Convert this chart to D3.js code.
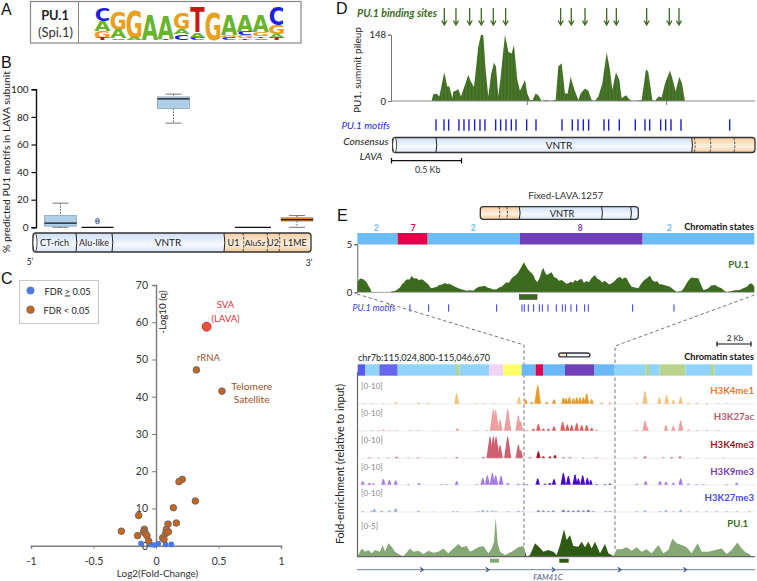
<!DOCTYPE html>
<html>
<head>
<meta charset="utf-8">
<style>
  html, body { margin: 0; padding: 0; background: #fff; }
  text { font-family: Lato, "Noto Sans", sans-serif; }
  .panel { font-family: "Liberation Sans", sans-serif; font-size: 16px; fill: #111; }
</style>
<script src="https://d3js.org/d3.v7.min.js"></script>
</head>
<body>
<script>
// ---- panel A: sequence logo (letters top to bottom, heights in bits)
var logoLetters = ["CAGT", "GAC", "GA", "A", "AT", "GAC", "TAC", "G", "AGC", "ACGT", "AGTC", "CGAT"];
var logoBits = [[.8, .63, .42, .12], [1.15, .52, .1], [1.7, .12], [1.52], [1.46, .06], [1, .35, .33],
  [1.52, .35, .12], [1.73], [1.25, .15, .12], [1.04, .21, .17, .1], [1.04, .27, .1, .1], [1.1, .56, .21, .12]];

// ---- panel B: boxplots
var subunitNames = ["CT-rich", "Alu-like", "VNTR", "U1", "AluSz", "U2", "L1ME"];
var subunitLength = [43, 36, 112, 19, 24, 12, 32];
var boxNames = ["CT-rich", "Alu-like", "VNTR", "AluSz", "L1ME"];
var boxPos = [27.5, 64.5, 140.5, 220, 264];
var boxLow = [0, 0, 75.5, 0, 0];
var boxQ1 = [.8, 0, 86, 0, 4.5];
var boxMedian = [3, 0, 93, 0, 5.5];
var boxQ3 = [8.5, 0, 94.5, 0, 7];
var boxHigh = [17.5, 0, 96.5, 0, 8.5];
var boxOutliers = [3.8, 5.2];
var boxTicks = [0, 20, 40, 60, 80, 100];

// ---- panel C: volcano plot
var sigFold = [.323, .528, .21, .184, .315, .139, -.139, .163, .096, -.277, -.093, -.099, -.085, -.147, -.072, -.059, .083, .077, .099, .053, .064];
var sigLogQ = [47.2, 41.5, 17.8, 17.2, 12, 10.2, 8.1, 6.1, 5.8, 3.9, 4.4, 3.8, 3.3, 2.7, 2.7, 1.25, 4.4, 3.3, 3.7, 2.1, 1.7];
var nsFold = [-.12, -.043, -.013, .019, .077, .123];
var nsLogQ = [.6, .35, .2, .6, .35, .35];
var lavaFold = .405, lavaLogQ = 58.8;
var foldTicks = [-1, -.5, 0, .5, 1];
var logQTicks = [0, 10, 20, 30, 40, 50, 60, 70];

// ---- panel D: consensus LAVA pileup (bins are ~2.4 bp)
var pileupBin = [115, 120, 130, 138, 153, 162, 168, 177, 180, 188, 195, 203, 225, 233, 242, 255, 263, 270, 277, 285, 293, 302, 308, 315, 322, 335, 345, 355, 362, 372, 380, 395, 402, 410, 418, 427, 435, 445, 460, 470, 487, 495, 505, 515, 523, 532, 542, 555, 562, 575, 585, 595, 605, 615, 627, 640, 650, 657, 668, 678, 685, 698, 710, 720, 745, 758, 765, 777, 785, 795, 805, 815, 830, 840, 847, 858, 866, 875];
var pileupVal = [0, 15, 16, 10, 64, 32, 33, 6, 21, 23, 27, 10, 58, 43, 31, 121, 148, 147, 69, 10, 58, 86, 77, 10, 54, 148, 110, 106, 125, 47, 23, 47, 17, 2, 2, 17, 13, 0, 2, 0, 2, 77, 84, 17, 17, 54, 28, 2, 17, 28, 23, 2, 0, 10, 39, 109, 69, 25, 64, 47, 6, 13, 2, 0, 2, 71, 65, 2, 0, 10, 8, 39, 68, 43, 21, 54, 39, 0];
var pileupTicks = [0, 148];
var bindingSites = [153, 188, 229, 264, 300, 337, 502, 534, 575, 640, 669, 760, 828, 857];
var consensusMotifs = [128, 152, 166, 197, 212, 227, 244, 260, 275, 307, 322, 338, 354, 368, 400, 428, 506, 537, 554, 570, 586, 632, 646, 678, 726, 755, 769, 802, 817, 833, 863, 1009];
var consensusDividers = [128, 895, 903, 950, 1022];

// ---- panel E: Fixed-LAVA.1257 locus
var stateStart = [0, 121, 211, 488, 856];
var stateEnd = [121, 211, 488, 856, 1191];
var stateName = ["2", "7", "2", "8", "2"];
var stateLabelBin = [57, 168, 348, 669, 936];
var stateColor = ["#6cbcf8", "#e0034b", "#6cbcf8", "#7040b8", "#6cbcf8"];
var locusBin = [0, 5, 10, 14, 18, 23, 28, 33, 38, 43, 98, 105, 113, 120, 128, 135, 140, 143, 150, 156, 163, 170, 178, 185, 191, 198, 205, 213, 218, 223, 230, 238, 246, 255, 263, 270, 276, 283, 292, 303, 315, 328, 338, 348, 356, 363, 372, 383, 390, 398, 408, 418, 425, 433, 440, 448, 455, 461, 468, 476, 483, 490, 496, 500, 505, 513, 520, 528, 534, 540, 547, 553, 558, 563, 568, 574, 583, 590, 598, 605, 613, 620, 627, 633, 640, 647, 653, 660, 668, 673, 680, 688, 695, 703, 713, 720, 728, 735, 741, 748, 755, 763, 770, 778, 788, 795, 802, 808, 815, 823, 833, 843, 850, 858, 864, 870, 878, 885, 893, 900, 907, 913, 925, 938, 948, 958, 973, 981, 988, 995, 1003, 1012, 1023, 1030, 1038, 1045, 1053, 1062, 1073, 1083, 1093, 1100, 1108, 1133, 1148, 1158, 1170, 1176, 1180, 1186, 1191];
var locusVal = [1.04, 1.3, 1.46, 1.36, 1.39, 1.2, 1.04, .7, .42, .03, .03, .1, .14, .3, .49, .9, 1, 1.18, 1.35, 1.3, 1.7, 1.45, 1.46, 1.25, 1.35, 1.28, 1.05, .83, .55, .42, .5, .56, .75, .8, .97, .85, .9, .76, .6, .42, .3, .17, .22, .17, .4, .56, .6, .69, .5, .42, .3, .31, .5, .59, .8, 1.04, 1, 1.35, 1.63, 1.8, 2.08, 2.5, 2.9, 3.13, 2.8, 2.33, 2.1, 1.81, 1.3, 1.04, 1.5, 2.2, 2.57, 2.1, 1.81, 1.9, 2.08, 1.6, 1.46, 1.2, 1.28, 1.1, .9, .94, 1.1, 1, 1.28, 1.15, 1.35, 1.39, 1, 1.18, 1.05, 1.5, 1.81, 1.4, 1.28, 1, 1.2, 1.04, .8, .94, 1.1, 1.4, 1.63, 1.35, 1.55, 1.46, 1, .59, .5, .42, .8, 1.18, 1.35, 1.5, 1.74, 1.25, 1.11, 1.15, .8, .83, .7, .59, .3, .07, .14, .5, .94, 1.3, 1.53, 1.5, 1.46, .9, .24, .3, .42, .7, .76, .55, .42, .2, .03, .21, .25, .42, .6, .85, .94, .85, .59];
var locusMotifs = [158, 214, 274, 418, 494, 501, 513, 529, 546, 555, 572, 597, 615, 624, 641, 658, 682, 693, 826, 950];

// ---- panel E lower: browser view
var wideStart = [0, 22, 65, 120, 295, 305, 394, 437, 492, 534, 556, 622, 709, 770, 863, 874, 906, 983, 1060, 1071];
var wideEnd = [22, 65, 120, 295, 305, 394, 437, 492, 534, 556, 622, 709, 770, 863, 874, 906, 983, 1060, 1071, 1184];
var wideColor = ["#5a5af0", "#90d4fa", "#6666ee", "#90d4fa", "#b8d48c", "#90d4fa", "#f0d4f8", "#ffff66", "#6ab8f7", "#e0034b", "#6ab8f7", "#7040b8", "#6ab8f7", "#90d4fa", "#b8d48c", "#90d4fa", "#b8d48c", "#90d4fa", "#b8d48c", "#90d4fa"];

var trackNames = ["H3K4me1", "H3K27ac", "H3K4me3", "H3K9me3", "H3K27me3"];
var k4me1Pos = [17, 42, 77, 114, 182, 212, 297, 357, 377, 407, 484, 504, 522, 540, 567, 589, 617, 625, 635, 647, 657, 667, 677, 687, 702, 732, 757, 837, 862, 905, 927, 947, 969, 992, 1017, 1047, 1082, 1107];
var k4me1Val = [.3, .3, .4, .9, .7, .6, 4.7, .4, .4, .3, 3.1, 2, .9, 8.3, .9, 2, 2.9, 2.6, 3.1, 2.6, 2.9, 2.9, 3, 4.6, 2.1, .6, .6, .6, 5.7, 2.9, 4, 1.7, 3.1, .7, .6, .4, .4, .3];
var k27acPos = [17, 42, 62, 77, 95, 117, 157, 182, 227, 299, 357, 387, 407, 414, 427, 450, 482, 489, 507, 527, 542, 557, 572, 589, 615, 629, 642, 657, 672, 687, 702, 717, 837, 862, 867, 925, 947, 969, 992, 1017, 1047, 1082];
var k27acVal = [.1, .4, .4, .6, .4, .3, .3, .4, .1, 1.3, .3, .4, 9.7, 9.3, 5, 9.7, 6.9, 4.3, .4, 1.1, 3.1, 1.1, 1.1, 2, 4, 2.9, 2.6, 3.4, 2.6, 2.6, 1.4, .4, .6, 4.6, 2.1, 2.6, 2.3, 4.6, .6, .4, .3, .4];
var k4me3Pos = [35, 62, 92, 117, 152, 182, 217, 262, 297, 377, 397, 407, 415, 427, 450, 482, 489, 517, 542, 557, 577, 592, 617, 637, 677, 717, 832, 862, 917, 942, 967, 1017, 1097];
var k4me3Val = [.4, .3, .3, .7, .3, .4, .1, .3, .6, .6, 9.7, 9.7, 9.7, 5.7, 9.7, 6, 3.6, .4, 3.1, .9, .9, 1.4, .4, .4, .3, .3, .4, .9, .4, .6, .9, .3, .3];
var k9me3Pos = [15, 35, 47, 77, 95, 114, 152, 184, 252, 267, 297, 357, 375, 389, 404, 414, 430, 450, 482, 495, 507, 540, 562, 577, 589, 617, 632, 652, 662, 675, 689, 699, 717, 742, 757, 837, 864, 907, 925, 947, 969, 992, 1017, 1037, 1107, 1137];
var k9me3Val = [1.7, .9, .7, 2.6, 2.1, 2, .4, .9, .3, .3, 1.7, .4, 3.1, 4.3, 5.4, 4.3, 4, .9, .6, .4, .3, 2.9, .6, .9, 2.6, 5.4, 4, 4.6, 2.9, 4.3, 3.1, 2.1, .4, .4, .6, .6, 1.7, 1.7, 1.4, 1.1, 2.9, .6, .4, .3, .4, 1.1];
var k27me3Pos = [15, 42, 50, 72, 95, 114, 182, 227, 287, 299, 362, 375, 389, 404, 415, 452, 482, 495, 542, 557, 572, 587, 617, 632, 647, 662, 677, 692, 707, 744, 757, 837, 862, 907, 925, 947, 969, 992, 1017, 1047, 1077, 1107, 1137, 1175];
var k27me3Val = [.4, .6, 1.3, .6, .7, 1.6, .6, .1, .4, .4, .3, .9, .6, .6, .4, .3, .6, .3, .7, .6, .4, .6, .9, .6, .6, .7, .6, .9, .3, .3, .4, .3, .7, .4, 1, .3, 1, .3, .3, .3, .3, .3, .4, .3];
var pu1Bin = [0, 12, 22, 32, 42, 52, 67, 75, 82, 92, 102, 112, 127, 137, 145, 157, 167, 182, 197, 212, 227, 242, 257, 272, 287, 302, 312, 327, 337, 347, 362, 377, 392, 402, 409, 414, 420, 427, 442, 462, 482, 497, 507, 517, 532, 545, 557, 572, 587, 597, 607, 619, 627, 637, 647, 662, 672, 682, 692, 702, 712, 727, 742, 752, 767, 777, 792, 807, 822, 837, 852, 867, 882, 902, 917, 932, 944, 957, 972, 987, 1002, 1020, 1032, 1052, 1072, 1092, 1107, 1122, 1139, 1149, 1162, 1179];
var pu1Val = [.08, 1.04, .63, .83, .42, .83, .63, 1.46, .63, 1.67, 1.25, .63, .21, .08, .42, 1.04, .63, .75, .33, .75, .5, .63, 1.04, .42, 1.04, 1.58, 1.17, 1.33, .63, .83, 1.17, 1.33, .42, 1.04, 1.88, 4.88, 1.67, .63, .21, .63, 1.17, 1.33, 0, .21, 1.67, 1.17, .63, .83, .63, .21, 1.46, 3.42, 2.08, 2.71, 1.33, 1.25, 1.88, 1.17, 1.88, 1.04, 1.88, .42, 1.58, .42, .08, .92, .92, 1.17, .75, 1.17, .63, .92, .42, 1.46, .42, .83, 2.29, 1.67, 1.46, 1.17, .42, 1.67, .63, .63, .83, 1.04, .33, .83, 1.79, 1.17, .63, .21];
var geneArrows = [192, 389, 587, 785, 982];

var svg = d3.select("body").append("svg")
  .attr("width", 757).attr("height", 581)
  .style("display", "block");
var defs = svg.append("defs");

function gradient(id, c0, c1, c2) {
  var g = defs.append("linearGradient").attr("id", id).attr("x1", 0).attr("x2", 0).attr("y1", 0).attr("y2", 1);
  g.append("stop").attr("offset", "0%").attr("stop-color", c0);
  g.append("stop").attr("offset", "60%").attr("stop-color", c1);
  g.append("stop").attr("offset", "100%").attr("stop-color", c2);
}
gradient("cylBlue", "#cddef5", "#f6f9fe", "#dbe6f7");
gradient("cylOrange", "#f5cda0", "#fdf1e2", "#f2c694");

// thin bars of the pileup show up as a faint stripe
var stripe = defs.append("pattern").attr("id", "pileStripe").attr("patternUnits", "userSpaceOnUse").attr("width", 1.4).attr("height", 4);
stripe.append("rect").attr("width", 1.4).attr("height", 4).attr("fill", "#3c6a1e");
stripe.append("rect").attr("width", .5).attr("height", 4).attr("fill", "#527f34");

function label(x, y, str, size, color, anchor, extra) {
  var t = svg.append("text").attr("x", x).attr("y", y).text(str)
    .style("font-size", size + "px").style("fill", color || "#222")
    .style("text-anchor", anchor || "start");
  if (extra && extra.bold) t.style("font-weight", "bold");
  if (extra && extra.italic) t.style("font-style", "italic");
  return t;
}
function rotLabel(x, y, str, size, color) {
  return svg.append("text").attr("transform", "translate(" + x + "," + y + ")rotate(-90)")
    .style("text-anchor", "middle").style("font-size", size + "px").style("fill", color || "#222").text(str);
}
function panelLetter(x, y, s) {
  svg.append("text").attr("class", "panel").attr("x", x).attr("y", y).text(s);
}

// cylinder schematic; parts are pixel spans, blue or orange, cap = draw left ellipse
function cylinder(x0, x1, y0, y1, parts, dividers, cap) {
  var g = svg.append("g");
  var clipId = "cyl" + Math.round(x0) + "_" + Math.round(y0);
  defs.append("clipPath").attr("id", clipId).append("rect")
    .attr("x", x0).attr("y", y0).attr("width", x1 - x0).attr("height", y1 - y0).attr("rx", 3);
  var inner = g.append("g").attr("clip-path", "url(#" + clipId + ")");
  parts.forEach(function(p) {
    inner.append("rect").attr("x", p.from).attr("y", y0).attr("width", p.to - p.from).attr("height", y1 - y0)
      .attr("fill", p.kind == "orange" ? "url(#cylOrange)" : "url(#cylBlue)");
  });
  dividers.forEach(function(d) {
    g.append("path")
      .attr("d", "M" + d.x + "," + y0 + "Q" + (d.x + 1.6) + "," + (y0 + y1) / 2 + " " + d.x + "," + y1)
      .attr("fill", "none").attr("stroke", "#222").attr("stroke-width", d.dash ? .8 : 1)
      .attr("stroke-dasharray", d.dash ? "2.5,1.5" : null);
  });
  g.append("rect").attr("x", x0).attr("y", y0).attr("width", x1 - x0).attr("height", y1 - y0).attr("rx", 3)
    .attr("fill", "none").attr("stroke", "#333").attr("stroke-width", 1.3);
  if (cap) {
    g.append("ellipse").attr("cx", x0 + 2).attr("cy", (y0 + y1) / 2).attr("rx", 2).attr("ry", (y1 - y0) / 2)
      .attr("fill", "#fff").attr("stroke", "#333").attr("stroke-width", .9);
  }
}

// ---------- A ----------
panelLetter(1, 15, "A");
svg.append("rect").attr("x", 30.5).attr("y", 1.5).attr("width", 270.5).attr("height", 41.5)
  .attr("fill", "#fff").attr("stroke", "#888").attr("stroke-width", 1.2);
svg.append("line").attr("x1", 78.5).attr("x2", 78.5).attr("y1", 1.5).attr("y2", 43).attr("stroke", "#888");
label(55, 19.5, "PU.1", 12.8, "#222", "middle", { bold: true });
label(55.5, 36.5, "(Spi.1)", 13, "#333", "middle");

var logoX = d3.scaleBand().domain(d3.range(logoLetters.length)).range([94.5, 284.5]);
var logoY = d3.scaleLinear().domain([0, 2]).range([39.5, 7.5]);
var letterColor = { A: "#6ab42d", C: "#1f1fe0", G: "#e8a020", T: "#c81818" };
logoLetters.forEach(function(word, i) {
  var top = d3.sum(logoBits[i]);
  word.split("").forEach(function(ch, j) {
    var h = logoBits[i][j];
    var bottom = logoY(top - d3.sum(logoBits[i].slice(0, j)) - h);
    var px = logoY(0) - logoY(h);
    svg.append("text")
      .attr("transform", "translate(" + (logoX(i) + logoX.bandwidth() / 2) + "," + bottom + ")scale(" + (logoX.bandwidth() / 15) + "," + (px / 14.6) + ")")
      .style("font-family", "DejaVu Sans").style("font-weight", "bold").style("font-size", "20px")
      .style("text-anchor", "middle").style("fill", letterColor[ch]).text(ch);
  });
});

// ---------- B ----------
panelLetter(1, 68, "B");
var bX = d3.scaleLinear().domain([0, d3.sum(subunitLength)]).range([33, 311]);
var bY = d3.scaleLinear().domain([0, 100]).range([227.3, 89.3]);
var bAxis = svg.append("g").attr("transform", "translate(36,0)")
  .call(d3.axisLeft(bY).tickValues(boxTicks).tickSize(4.5).tickPadding(3));
bAxis.select(".domain").attr("stroke", "#111").attr("stroke-width", 1.4);
bAxis.selectAll(".tick line").attr("stroke", "#111").attr("stroke-width", 1.2);
bAxis.selectAll(".tick text").style("font-size", "10px").style("font-family", "Lato").attr("fill", "#222");
rotLabel(9.5, 162, "% predicted PU1 motifs in LAVA subunit", 10.3);

boxNames.forEach(function(name, i) {
  var cx = bX(boxPos[i]), w = name == "AluSz" ? 36 : 32;
  var orange = name == "L1ME";
  if (boxHigh[i] > boxQ3[i]) {
    svg.append("line").attr("x1", cx).attr("x2", cx).attr("y1", bY(boxHigh[i])).attr("y2", bY(boxQ3[i]))
      .attr("stroke", "#333").attr("stroke-width", .8).attr("stroke-dasharray", "1.5,1.5");
    svg.append("line").attr("x1", cx - 8).attr("x2", cx + 8).attr("y1", bY(boxHigh[i])).attr("y2", bY(boxHigh[i]))
      .attr("stroke", "#555").attr("stroke-width", .8);
  }
  if (boxLow[i] < boxQ1[i]) {
    svg.append("line").attr("x1", cx).attr("x2", cx).attr("y1", bY(boxQ1[i])).attr("y2", bY(boxLow[i]))
      .attr("stroke", "#333").attr("stroke-width", .8).attr("stroke-dasharray", "1.5,1.5");
    svg.append("line").attr("x1", cx - 8).attr("x2", cx + 8).attr("y1", bY(boxLow[i])).attr("y2", bY(boxLow[i]))
      .attr("stroke", "#555").attr("stroke-width", .8);
  }
  if (boxQ3[i] > boxQ1[i]) {
    svg.append("rect").attr("x", cx - w / 2).attr("width", w).attr("y", bY(boxQ3[i])).attr("height", bY(boxQ1[i]) - bY(boxQ3[i]))
      .attr("fill", orange ? "#d68a3c" : "#aecfea").attr("stroke", "#8a9aa8").attr("stroke-width", .7);
  }
  svg.append("line").attr("x1", cx - w / 2).attr("x2", cx + w / 2).attr("y1", bY(boxMedian[i])).attr("y2", bY(boxMedian[i]))
    .attr("stroke", "#111").attr("stroke-width", 1.2);
});
svg.selectAll(".outlier").data(boxOutliers).enter().append("circle").attr("class", "outlier")
  .attr("cx", bX(boxPos[1])).attr("cy", function(d) { return bY(d); }).attr("r", 1.8)
  .attr("fill", "none").attr("stroke", "#3a5a80").attr("stroke-width", .9);

var starts = [0].concat(Array.from(d3.cumsum(subunitLength)));
var bParts = [], bDiv = [];
subunitNames.forEach(function(n, i) {
  bParts.push({ from: bX(starts[i]), to: bX(starts[i + 1]), kind: i < 3 ? "blue" : "orange" });
  if (i > 0) bDiv.push({ x: bX(starts[i]), dash: i > 3 });
});
cylinder(33, 311, 233, 252, bParts, bDiv, true);
subunitNames.forEach(function(n, i) {
  label((bX(starts[i]) + bX(starts[i + 1])) / 2, 246, n, n == "VNTR" ? 10 : (n == "AluSz" ? 8.4 : 9), "#222", "middle");
});
label(30, 265, "5\u2019", 8.5, "#222", "middle");
label(309, 266, "3\u2019", 8.5, "#222", "middle");

// ---------- C ----------
panelLetter(1, 284, "C");
var cX = d3.scaleLinear().domain([-1, 1]).range([31, 281]);
var cY = d3.scaleLinear().domain([0, 70]).range([545.7, 285]);
var cxAxis = svg.append("g").attr("transform", "translate(0,545.7)")
  .call(d3.axisBottom(cX).tickValues(foldTicks).tickSize(3).tickPadding(9).tickFormat(function(d) { return String(d); }));
var cyAxis = svg.append("g").attr("transform", "translate(156,0)")
  .call(d3.axisLeft(cY).tickValues(logQTicks).tickSize(4).tickPadding(4));
[cxAxis, cyAxis].forEach(function(a) {
  a.select(".domain").attr("stroke", "#7f7f7f").attr("stroke-width", 1.5);
  a.selectAll(".tick line").attr("stroke", "#7f7f7f").attr("stroke-width", 1);
  a.selectAll(".tick text").style("font-size", "10.5px").style("font-family", "Lato").attr("fill", "#333");
});
rotLabel(166, 312, "-Log10 (q)", 9.8);
label(157.5, 577, "Log2(Fold-Change)", 9.9, "#333", "middle");

svg.selectAll(".ns").data(nsFold).enter().append("circle").attr("class", "ns")
  .attr("cx", function(d) { return cX(d); }).attr("cy", function(d, i) { return cY(nsLogQ[i]); })
  .attr("r", 2.8).attr("fill", "#4a78e8");
svg.selectAll(".sig").data(sigFold).enter().append("circle").attr("class", "sig")
  .attr("cx", function(d) { return cX(d); }).attr("cy", function(d, i) { return cY(sigLogQ[i]); })
  .attr("r", 3.3).attr("fill", "#c8641e").attr("stroke", "#666").attr("stroke-width", .9);
svg.append("circle").attr("cx", cX(lavaFold)).attr("cy", cY(lavaLogQ)).attr("r", 4.4)
  .attr("fill", "#e2553a").attr("stroke", "#e8202a").attr("stroke-width", 1);

label(225.5, 307.5, "SVA", 9.5, "#e03036", "middle");
label(225.5, 321.5, "(LAVA)", 9.5, "#e03036", "middle");
label(208.5, 361, "rRNA", 9.5, "#a0522a", "middle");
label(251.7, 389.5, "Telomere", 10.2, "#a0522a", "middle");
label(251.7, 403, "Satellite", 10.2, "#a0522a", "middle");

svg.append("rect").attr("x", 19.5).attr("y", 280.5).attr("width", 79).attr("height", 43)
  .attr("fill", "#fff").attr("stroke", "#c8c8c8").attr("stroke-width", 1);
svg.append("circle").attr("cx", 30.5).attr("cy", 290.5).attr("r", 3.8).attr("fill", "#4a78e8").attr("stroke", "#888").attr("stroke-width", .5);
svg.append("circle").attr("cx", 30.5).attr("cy", 309.7).attr("r", 3.8).attr("fill", "#c8641e").attr("stroke", "#666").attr("stroke-width", .7);
var lg = label(44.5, 294.5, "FDR ", 9.2, "#222");
lg.append("tspan").style("text-decoration", "underline").text(">");
lg.append("tspan").text(" 0.05");
label(43.5, 314, "FDR < 0.05", 9.2, "#222");

// ---------- D ----------
panelLetter(336, 14, "D");
var dGreen = "#3c6a1e";
var dX = d3.scaleLinear().domain([0, 1085]).range([393.3, 755]);
var dY = d3.scaleLinear().domain([0, 148]).range([101, 34.7]);
label(357, 17, "PU.1 binding sites", 10.6, dGreen, "start", { bold: true, italic: true });

svg.selectAll(".site").data(bindingSites).enter().append("path").attr("class", "site")
  .attr("d", function(d) {
    var x = dX(d);
    return "M" + x + ",8V25M" + (x - 2.6) + ",20.5L" + x + ",25L" + (x + 2.6) + ",20.5";
  })
  .attr("fill", "none").attr("stroke", dGreen).attr("stroke-width", 1.3);

var dArea = d3.area().x(function(d) { return dX(d); }).y0(dY(0)).y1(function(d, i) { return dY(pileupVal[i]); });
svg.append("path").attr("d", dArea(pileupBin)).attr("fill", "url(#pileStripe)");
svg.append("line").attr("x1", 391).attr("x2", 755).attr("y1", dY(0)).attr("y2", dY(0)).attr("stroke", "#888").attr("stroke-width", 1);
var dAxis = svg.append("g").attr("transform", "translate(391,0)")
  .call(d3.axisLeft(dY).tickValues(pileupTicks).tickSize(3).tickPadding(2));
dAxis.select(".domain").attr("stroke", "#777");
dAxis.selectAll(".tick line").attr("stroke", "#777");
dAxis.selectAll(".tick text").style("font-size", "9.5px").style("font-family", "Lato").attr("fill", "#222");
[402, 820].forEach(function(b) {
  svg.append("line").attr("x1", dX(b)).attr("x2", dX(b)).attr("y1", 101).attr("y2", 105).attr("stroke", "#777");
});
rotLabel(361, 70, "PU1. summit pileup", 10);

svg.selectAll(".dmotif").data(consensusMotifs).enter().append("line").attr("class", "dmotif")
  .attr("x1", function(d) { return dX(d); }).attr("x2", function(d) { return dX(d); })
  .attr("y1", 119.3).attr("y2", 130.7).attr("stroke", "#1c1cd0").attr("stroke-width", 1.4);
label(341.5, 129, "PU.1 motifs", 10, "#2a2ad8", "start", { italic: true });
label(388.5, 145, "Consensus", 10.3, "#222", "end", { italic: true });
label(371, 159.5, "LAVA", 10, "#222", "middle", { italic: true });

cylinder(dX(-2), 755, 137.5, 152.5,
  [{ from: dX(-2), to: dX(895), kind: "blue" }, { from: dX(895), to: 755, kind: "orange" }],
  consensusDividers.map(function(d, i) { return { x: dX(d), dash: i > 1 }; }), true);
label(559, 149, "VNTR", 10, "#222", "middle");
svg.append("path").attr("d", "M391.5,158V163.5M391.5,160.7H461.5M461.5,158V163.5")
  .attr("fill", "none").attr("stroke", "#111").attr("stroke-width", 1.2);
label(427.7, 173, "0.5 Kb", 8.8, "#333", "middle");

// ---------- E upper ----------
panelLetter(337, 221, "E");
var eX = d3.scaleLinear().domain([0, 1191]).range([357.3, 754.3]);
var eY = d3.scaleLinear().domain([0, 5]).range([292.3, 244.3]);
label(565.7, 198.5, "Fixed-LAVA.1257", 9.7, "#333", "middle");
cylinder(eX(369), eX(843), 206.7, 219.3,
  [{ from: eX(369), to: eX(486), kind: "orange" }, { from: eX(486), to: eX(843), kind: "blue" }],
  [{ x: eX(425), dash: true }, { x: eX(448), dash: true }, { x: eX(486), dash: false }, { x: eX(733), dash: false }, { x: eX(820), dash: false }], false);
label(562, 216.5, "VNTR", 9.3, "#222", "middle");

stateStart.forEach(function(s, i) {
  svg.append("rect").attr("x", eX(s)).attr("width", eX(stateEnd[i]) - eX(s)).attr("y", 233).attr("height", 11.5).attr("fill", stateColor[i]);
  label(eX(stateLabelBin[i]), 231, stateName[i], 8.5, i == 1 ? "#e0034b" : (i == 3 ? "#7040b8" : "#6cbcf8"), "middle", { bold: true });
});
label(754, 229.5, "Chromatin states", 9.2, "#111", "end", { bold: true });

var eArea = d3.area().x(function(d) { return eX(d); }).y0(eY(0)).y1(function(d, i) { return eY(locusVal[i]); });
svg.append("path").attr("d", eArea(locusBin)).attr("fill", dGreen);
var eAxis = svg.append("g").attr("transform", "translate(357.3,0)")
  .call(d3.axisLeft(eY).tickValues([0, 5]).tickFormat(function(d) { return String(d); }).tickSize(3).tickPadding(2));
eAxis.select(".domain").attr("stroke", "#666");
eAxis.selectAll(".tick line").attr("stroke", "#666");
eAxis.selectAll(".tick text").style("font-size", "9.5px").style("font-family", "Lato").attr("fill", "#222");
svg.append("line").attr("x1", 357).attr("x2", 755).attr("y1", eY(0)).attr("y2", eY(0)).attr("stroke", "#999").attr("stroke-width", .7);
label(749, 268, "PU.1", 9.6, dGreen, "end", { bold: true });
svg.append("rect").attr("x", 519.3).attr("y", 294.5).attr("width", 17.7).attr("height", 5).attr("fill", dGreen).attr("stroke", "#333").attr("stroke-width", .5);

svg.selectAll(".emotif").data(locusMotifs).enter().append("line").attr("class", "emotif")
  .attr("x1", function(d) { return eX(d); }).attr("x2", function(d) { return eX(d); })
  .attr("y1", 304.3).attr("y2", 311.7).attr("stroke", "#3a3ae0").attr("stroke-width", 1);
label(352.5, 310.5, "PU.1 motifs", 8.9, "#3a3ae0", "start", { italic: true });

// zoom guides
svg.append("path").attr("d", "M357,294L524,345V556").attr("fill", "none").attr("stroke", "#777").attr("stroke-width", 1).attr("stroke-dasharray", "3.5,2.5");
svg.append("path").attr("d", "M754.5,295L615,346V550").attr("fill", "none").attr("stroke", "#777").attr("stroke-width", 1).attr("stroke-dasharray", "3.5,2.5");
svg.append("path").attr("d", "M717,341.5V346.5M717,344H751M751,341.5V346.5").attr("fill", "none").attr("stroke", "#111").attr("stroke-width", 1.2);
label(735, 340.5, "2 Kb", 8, "#222", "middle");

// ---------- E lower ----------
var lX = d3.scaleLinear().domain([0, 1192]).range([357.7, 755]);
var winL = lX(502), winR = lX(768);
label(358, 361, "chr7b:115,024,800-115,046,670", 9.1, "#222");
label(754, 360, "Chromatin states", 9.2, "#111", "end", { bold: true });
cylinder(558.7, 590, 353, 356.8,
  [{ from: 558.7, to: 566, kind: "orange" }, { from: 566, to: 590, kind: "blue" }], [{ x: 566, dash: false }], false);
wideStart.forEach(function(s, i) {
  svg.append("rect").attr("x", lX(s)).attr("width", lX(wideEnd[i]) - lX(s)).attr("y", 364.3).attr("height", 11.4).attr("fill", wideColor[i]);
});

defs.append("clipPath").attr("id", "winIn").append("rect").attr("x", winL).attr("y", 370).attr("width", winR - winL).attr("height", 195);
defs.append("clipPath").attr("id", "winOut").append("path")
  .attr("d", "M350,370H" + winL + "V565H350ZM" + winR + ",370H760V565H" + winR + "Z");

function peakTrack(posArr, valArr, base, light, dark) {
  var y = d3.scaleLinear().domain([0, 10]).range([base, base - 23.3]);
  var a = d3.area().x(function(d) { return lX(d[0]); }).y0(base).y1(function(d) { return y(d[1]); });
  [["winOut", light], ["winIn", dark]].forEach(function(c) {
    var g = svg.append("g").attr("clip-path", "url(#" + c[0] + ")");
    posArr.forEach(function(p, i) {
      var hw = 5 + valArr[i] * .6;  // taller peaks sit on a wider foot
      g.append("path").attr("d", a([[p - hw, 0], [p - 2, valArr[i] * .9], [p, valArr[i]], [p + 2, valArr[i] * .9], [p + hw, 0]])).attr("fill", c[1]);
    });
  });
  svg.append("line").attr("x1", 358).attr("x2", 755).attr("y1", base).attr("y2", base).attr("stroke", "#e4e4e4").attr("stroke-width", .7);
}
peakTrack(k4me1Pos, k4me1Val, 404, "#f2c47e", "#e89a2a");
peakTrack(k27acPos, k27acVal, 431, "#eda0a0", "#e05a5a");
peakTrack(k4me3Pos, k4me3Val, 458.3, "#d06070", "#a01828");
peakTrack(k9me3Pos, k9me3Val, 485, "#a67ae8", "#4a0ac8");
peakTrack(k27me3Pos, k27me3Val, 512, "#8aa8ee", "#3a5ae0");

var puY = d3.scaleLinear().domain([0, 5]).range([556.7, 516.7]);
var puArea = d3.area().x(function(d) { return lX(d); }).y0(puY(0)).y1(function(d, i) { return puY(pu1Val[i]); });
[["winOut", "#86a874"], ["winIn", "#2f5a12"]].forEach(function(c) {
  svg.append("path").attr("clip-path", "url(#" + c[0] + ")").attr("d", puArea(pu1Bin)).attr("fill", c[1]);
});
svg.append("path").attr("d", "M357.5,372V556.7H755").attr("fill", "none").attr("stroke", "#666").attr("stroke-width", 1.2);

var rangeY = [388.5, 416, 443, 469.5, 496, 529];
var rangeText = ["[0-10]", "[0-10]", "[0-10]", "[0-10]", "[0-10]", "[0-5]"];
rangeText.forEach(function(t, i) { label(361, rangeY[i], t, 8, "#888"); });
var trackLabelY = [394, 420, 447.5, 475, 501];
var trackLabelColor = ["#e8772e", "#b85a6a", "#9a1420", "#7a3ab8", "#4a4ae0"];
trackNames.forEach(function(n, i) { label(754, trackLabelY[i], n, 9.6, trackLabelColor[i], "end", { bold: true }); });
label(748, 527, "PU.1", 9.6, dGreen, "end", { bold: true });
rotLabel(344, 464, "Fold-enrichment (relative to input)", 10.7);

svg.append("rect").attr("x", 490).attr("y", 558.7).attr("width", 9).attr("height", 4).attr("fill", "#86a874");
svg.append("rect").attr("x", 559.3).attr("y", 558.7).attr("width", 9.4).attr("height", 4).attr("fill", "#2f5a12");
svg.append("line").attr("x1", 357).attr("x2", 755).attr("y1", 569.7).attr("y2", 569.7).attr("stroke", "#7080b0").attr("stroke-width", 1);
svg.selectAll(".genearrow").data(geneArrows).enter().append("path").attr("class", "genearrow")
  .attr("d", function(d) { var x = lX(d); return "M" + (x - 1.5) + ",567.5L" + (x + 1.5) + ",569.7L" + (x - 1.5) + ",571.9"; })
  .attr("fill", "none").attr("stroke", "#2a4a88").attr("stroke-width", 1.1);
label(548, 580, "FAM41C", 7.8, "#4a5a8a", "middle", { italic: true });
</script>
</body>
</html>
